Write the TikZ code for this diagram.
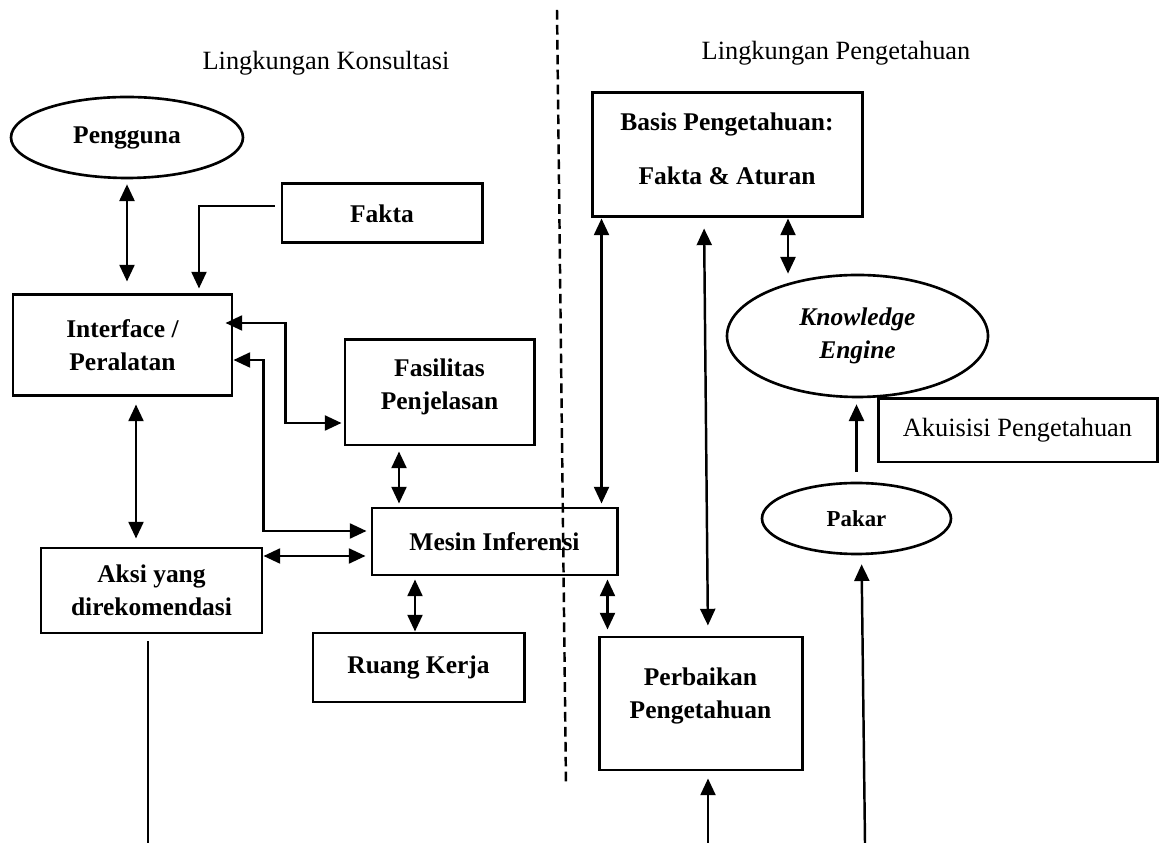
\documentclass[tikz,border=0pt]{standalone}
\usepackage{fontspec}
\setmainfont{Liberation Serif}
\usetikzlibrary{arrows.meta,shapes.geometric}
\begin{document}
\begin{tikzpicture}[x=1cm,y=1cm,
  >={Triangle[length=9.5pt,width=8.5pt]},
  box/.style={draw,line width=1.7pt,align=center,inner sep=2pt,
    font=\fontsize{14.5}{18.8}\selectfont\bfseries},
  oval/.style={draw,ellipse,line width=1.5pt,align=center,inner sep=0pt,
    font=\fontsize{14.5}{18.8}\selectfont\bfseries},
  link/.style={line width=1.4pt},
  envtext/.style={font=\fontsize{15}{19}\selectfont}]
\useasboundingbox[fill=white] (0,0) rectangle (23.24,16.86);

\node[envtext] (konsultasi) at (6.52,15.60) {Lingkungan Konsultasi};
\node[envtext] (lingpeng) at (16.72,15.80) {Lingkungan Pengetahuan};

\node[oval,minimum width=4.64cm,minimum height=1.62cm] (pengguna) at (2.54,14.11) {Pengguna};
\node[box,minimum width=4.00cm,minimum height=1.18cm] (fakta) at (7.64,12.59) {Fakta};
\node[box,minimum width=4.38cm,minimum height=2.02cm] (iface) at (2.45,9.95) {Interface /\\Peralatan};
\node[box,minimum width=3.78cm,minimum height=2.10cm] (fasilitas) at (8.79,9.01) {Fasilitas\\Penjelasan\\[-9pt]};
\node[box,minimum width=4.90cm,minimum height=1.34cm] (mesin) at (9.89,6.03) {Mesin Inferensi};
\node[box,minimum width=4.42cm,minimum height=1.70cm] (aksi) at (3.03,5.05) {Aksi yang\\direkomendasi};
\node[box,minimum width=4.22cm,minimum height=1.38cm] (ruang) at (8.37,3.51) {Ruang Kerja};

\node[box,minimum width=5.40cm,minimum height=2.48cm] (basis) at (14.54,13.76) {Basis Pengetahuan:\\[12pt]Fakta \& Aturan\\[-12pt]};
\node[oval,minimum width=5.22cm,minimum height=2.44cm] (engine) at (17.15,10.14) {\itshape Knowledge\\\itshape Engine};
\node[box,minimum width=5.58cm,minimum height=1.26cm,font=\fontsize{15}{19}\selectfont] (akuisisi) at (20.35,8.25) {Akuisisi Pengetahuan};
\node[oval,minimum width=3.78cm,minimum height=1.42cm,font=\fontsize{13}{16}\selectfont\bfseries] (pakar) at (17.13,6.49) {Pakar};
\node[box,minimum width=4.06cm,minimum height=2.66cm] (perbaikan) at (14.01,2.79) {Perbaikan\\Pengetahuan\\[-7pt]};

\coordinate (aksiout) at (2.96,0);
\coordinate (perbin) at (14.16,0);
\coordinate (pakarin) at (17.30,0);

% consultation side
\draw[link,<->,shorten <=0.1cm,shorten >=0.24cm] (pengguna.south) -- (pengguna.south |- iface.north);
\draw[link,->,shorten >=0.1cm] ([xshift=-0.12cm,yshift=0.15cm]fakta.west) -| ([xshift=1.53cm]iface.north);
\draw[link,<->] ([xshift=-0.16cm,yshift=0.45cm]iface.east) -- ++(1.2,0) |- ([xshift=-0.04cm,yshift=-0.61cm]fasilitas.west);
\draw[link,<->] ([yshift=-0.29cm]iface.east) -- ++(0.6,0) |- ([xshift=-0.08cm,yshift=0.21cm]mesin.west);
\draw[link,<->,shorten <=0.14cm,shorten >=0.16cm] ([xshift=0.27cm]iface.south) -- ([xshift=0.27cm]iface.south |- aksi.north);
\draw[link,<->,shorten >=0.1cm] ([yshift=0.69cm]aksi.east) -- ([yshift=0.69cm]aksi.east -| mesin.west);
\draw[link,<->,shorten <=0.1cm,shorten >=0.06cm] ([xshift=-0.81cm]fasilitas.south) -- ([xshift=-0.81cm]fasilitas.south |- mesin.north);
\draw[link,<->,shorten <=0.06cm] ([xshift=-0.07cm]ruang.north |- mesin.south) -- ([xshift=-0.07cm]ruang.north);
\draw[link] ([xshift=-0.07cm,yshift=-0.14cm]aksi.south) -- ([xshift=-0.07cm]aksi.south |- aksiout);

% knowledge side
\draw[link,<->,shorten >=0.06cm] ([xshift=0.22cm]basis.south west) -- ([xshift=0.22cm]basis.south west |- mesin.north);
\draw[link,<->,shorten <=0.2cm,shorten >=0.2cm] ([xshift=-0.46cm]basis.south) -- ([xshift=0.15cm]perbaikan.north);
\draw[link,<->] ([xshift=1.22cm]basis.south) -- ([xshift=1.22cm]basis.south |- engine.north);
\draw[link,<->,shorten <=0.06cm,shorten >=0.12cm] ([xshift=-0.22cm]mesin.south east) -- ([xshift=-0.22cm]mesin.south east |- perbaikan.north);
\draw[link,->,shorten <=0.2cm,shorten >=0.12cm] (pakar.north) -- (pakar.north |- engine.south);
\draw[link,->,shorten >=0.18cm] (pakarin) -- ([xshift=0.1cm]pakar.south);
\draw[link,->,shorten >=0.14cm] (perbin) -- (perbin |- perbaikan.south);

% boundary between the two environments
\draw[line width=1.4pt,dash pattern=on 5.5pt off 3pt] (11.14,16.66) -- (11.32,1.16);
\end{tikzpicture}
\end{document}
